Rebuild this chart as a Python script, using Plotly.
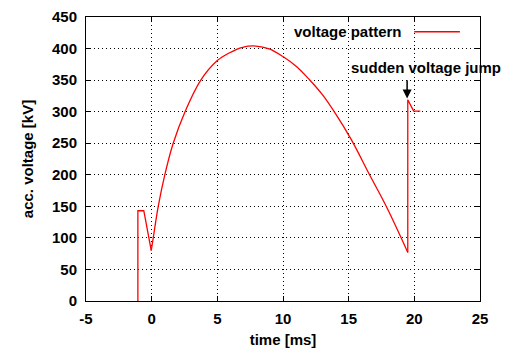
import plotly.graph_objects as go

# time [ms] and voltage [kV]
# pre-pulse step
step_t = [-1.05, -1.05, -0.6, -0.03]
step_v = [0, 143, 143, 80]
# main voltage arc
arc_t = [-0.03, 0.12, 0.5, 1.0, 1.64, 2.54, 3.74, 5.0, 5.9, 6.92, 7.94, 8.95,
         10.02, 11.0, 12.0, 13.0, 13.9, 15.19, 16.59, 17.86, 19.5]
arc_v = [80, 100, 150, 200, 250, 300, 350, 381, 393, 402, 404, 399.5,
         387, 372, 351, 327, 300, 256, 200, 150, 77]
# sudden jump and plateau
jump_t = [19.5, 19.5, 19.95, 20.45]
jump_v = [77, 319, 301, 301]

series_name = "voltage pattern"
jump_label = "sudden voltage jump"
x_ticks = [-5, 0, 5, 10, 15, 20, 25]
y_ticks = [0, 50, 100, 150, 200, 250, 300, 350, 400, 450]

FONT = "Liberation Sans, Arial, sans-serif"
RED = "#ff0000"
LW = 1.3

fig = go.Figure()
fig.add_trace(go.Scatter(x=step_t, y=step_v, mode="lines", name=series_name,
                         line=dict(color=RED, width=LW), showlegend=False))
fig.add_trace(go.Scatter(x=arc_t, y=arc_v, mode="lines", name=series_name,
                         line=dict(color=RED, width=LW, shape="spline", smoothing=1.0),
                         showlegend=False))
fig.add_trace(go.Scatter(x=jump_t, y=jump_v, mode="lines", name=series_name,
                         line=dict(color=RED, width=LW), showlegend=False))

tick_font = dict(family=FONT, size=15, color="black", weight="bold")
axis_common = dict(
    showline=True, linecolor="black", linewidth=1, mirror="ticks",
    ticks="inside", ticklen=5, tickcolor="black", tickwidth=1,
    showgrid=True, gridcolor="black", gridwidth=1, griddash="1px,3px",
    zeroline=False, automargin=False,
    tickfont=tick_font,
)

fig.update_xaxes(range=[-5, 25], tickvals=x_ticks, ticktext=[str(v) for v in x_ticks],
                 ticklabelstandoff=4,
                 title=dict(text="time [ms]", standoff=8, font=tick_font),
                 **axis_common)
fig.update_yaxes(range=[0, 450], tickvals=y_ticks, ticktext=[str(v) for v in y_ticks],
                 ticklabelstandoff=5,
                 title=dict(text="acc. voltage [kV]", standoff=14, font=tick_font),
                 **axis_common)

# legend drawn gnuplot-style: text then line sample
fig.add_annotation(x=0.808, y=0.95, xref="paper", yref="paper", text=series_name,
                   showarrow=False, xanchor="right", yanchor="middle", font=tick_font)
fig.add_shape(type="line", xref="paper", yref="paper", x0=0.833, x1=0.949, y0=0.948, y1=0.948,
              line=dict(color=RED, width=LW))

# jump annotation text and arrow
fig.add_annotation(x=15.0, y=370, xref="x", yref="y", text=jump_label, showarrow=False,
                   xanchor="left", yanchor="middle", font=tick_font)
fig.add_annotation(x=19.45, y=321, xref="x", yref="y", ax=19.45, ay=352, axref="x", ayref="y",
                   text="", showarrow=True, arrowhead=2, arrowsize=1.2, arrowwidth=1.5,
                   arrowcolor="black")

fig.update_layout(width=505, height=350, margin=dict(l=85.5, r=25, t=17, b=49),
                  paper_bgcolor="white", plot_bgcolor="white",
                  font=dict(family=FONT, color="black"))

fig.write_html("out.html")
